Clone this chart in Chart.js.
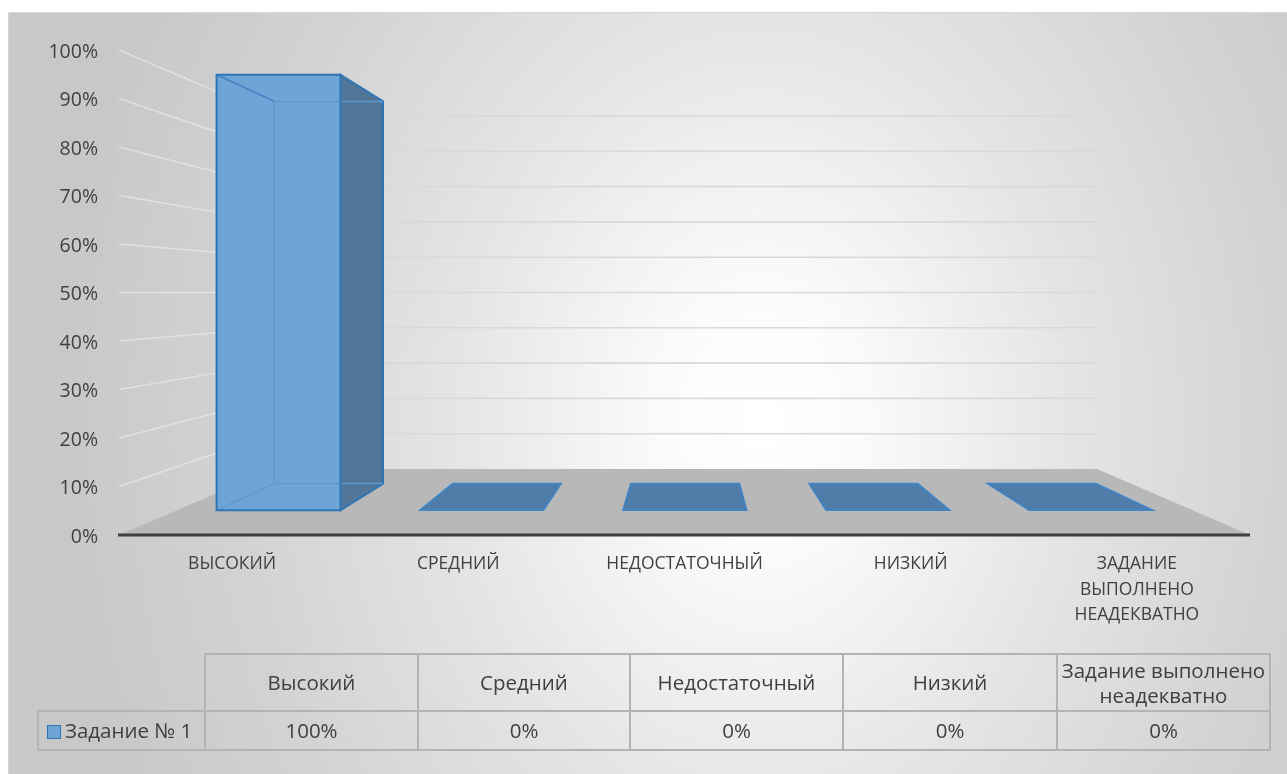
<!DOCTYPE html>
<html>
<head>
<meta charset="utf-8">
<script src="https://cdn.jsdelivr.net/npm/chart.js@4.4.1/dist/chart.umd.min.js"></script>
<style>
  html, body { margin: 0; padding: 0; background: #fff; }
  #wrap { position: relative; width: 1287px; height: 774px; overflow: hidden; }
  #bg {
    position: absolute; left: 8px; top: 12px; width: 1300px; height: 780px;
    border: 1px solid #d6d6d6;
    background: radial-gradient(ellipse 700px 900px at 752px 408px, #ffffff 0%, #fbfbfb 14%, #e4e4e4 45%, #d3d3d3 74%, #c8c8c8 100%);
  }
  #c { position: absolute; left: 0; top: 0; }
  #tbl {
    position: absolute; left: 37px; top: 653px;
    border-collapse: collapse; table-layout: fixed;
    font-family: "Open Sans", sans-serif; font-size: 20.5px; color: #404040;
  }
  #tbl td, #tbl th {
    border: 2px solid #b3b3b3; text-align: center; font-weight: normal;
    padding: 0 2px; line-height: 25px;
  }
  #tbl tr.head td, #tbl tr.head th { height: 55px; }
  #tbl tr.vals td { height: 37px; }
  #tbl td.empty { border-top: none; border-left: none; }
  #tbl td.key { text-align: left; padding-left: 8px; white-space: nowrap; }
  .sw { display: inline-block; width: 12px; height: 12px; background: #6fa4d6; border: 1.5px solid #2e75b6; margin-right: 4px; vertical-align: -1px; }
</style>
</head>
<body>
<div id="wrap">
  <div id="bg"></div>
  <canvas id="c" width="1287" height="774"></canvas>
  <table id="tbl">
    <colgroup><col style="width:167px"><col style="width:213px"><col style="width:212px"><col style="width:213px"><col style="width:214px"><col style="width:213px"></colgroup>
    <tbody></tbody>
  </table>
</div>
<script>
var categories = ['Высокий', 'Средний', 'Недостаточный', 'Низкий', 'Задание выполнено неадекватно'];
var seriesName = 'Задание № 1';
var values = [1.00, 0, 0, 0, 0];
var yTicks = [0, 0.1, 0.2, 0.3, 0.4, 0.5, 0.6, 0.7, 0.8, 0.9, 1.0];

// depth of the planes, as a share of the front plane (perspective)
var S_FRONT = 0.898, S_BACK = 0.788, S_WALL = 0.728;

function pct(v) { return Math.round(v * 100) + '%'; }

var depth3d = {
  id: 'depth3d',
  afterDatasetsDraw: function(chart) {
    var ctx = chart.ctx, a = chart.chartArea;
    var y = chart.scales.y;
    var vx = (a.left + a.right) / 2 + 3;
    var vy = y.getPixelForValue(0.5);
    function P(px, py, s) { return [vx + (px - vx) * s, vy + (py - vy) * s]; }
    function poly(pts) {
      ctx.beginPath();
      ctx.moveTo(pts[0][0], pts[0][1]);
      for (var i = 1; i < pts.length; i++) ctx.lineTo(pts[i][0], pts[i][1]);
      ctx.closePath();
    }
    function line(p, q, col, w) {
      ctx.beginPath(); ctx.moveTo(p[0], p[1]); ctx.lineTo(q[0], q[1]);
      ctx.strokeStyle = col; ctx.lineWidth = w; ctx.stroke();
    }
    ctx.save();

    // walls grid
    yTicks.forEach(function(v) {
      if (v === 0) return;
      var py = y.getPixelForValue(v);
      var f = P(a.left, py, 1), b = P(a.left, py, S_WALL), r = P(a.right, py, S_WALL);
      line(f, b, 'rgba(232,232,232,0.75)', 1.4);
      line(b, r, '#d9d9d9', 1.6);
    });

    // floor
    var y0 = y.getPixelForValue(0);
    poly([P(a.left, y0, 1), P(a.right, y0, 1), P(a.right, y0, S_WALL), P(a.left, y0, S_WALL)]);
    ctx.fillStyle = '#b8b8b8';
    ctx.fill();

    // bars
    var meta = chart.getDatasetMeta(0);
    meta.data.forEach(function(el) {
      var p = el.getProps(['x', 'y', 'base', 'width'], true);
      var xl = p.x - p.width / 2, xr = p.x + p.width / 2;
      var yb = p.base, yt = p.y;
      if (Math.abs(yb - yt) < 0.5) {
        poly([P(xl, yb, S_FRONT), P(xr, yb, S_FRONT), P(xr, yb, S_BACK), P(xl, yb, S_BACK)]);
        ctx.fillStyle = '#4f7ca8';
        ctx.fill();
        ctx.strokeStyle = '#3d86c9'; ctx.lineWidth = 1.5; ctx.stroke();
        return;
      }
      var ftl = P(xl, yt, S_FRONT), ftr = P(xr, yt, S_FRONT), fbr = P(xr, yb, S_FRONT), fbl = P(xl, yb, S_FRONT);
      var btl = P(xl, yt, S_BACK), btr = P(xr, yt, S_BACK), bbr = P(xr, yb, S_BACK), bbl = P(xl, yb, S_BACK);
      // right side
      poly([ftr, btr, bbr, fbr]);
      ctx.fillStyle = '#517698'; ctx.fill();
      ctx.strokeStyle = '#2e75b6'; ctx.lineWidth = 2; ctx.stroke();
      // front face (see-through look)
      poly([ftl, ftr, fbr, fbl]);
      ctx.fillStyle = '#6fa4d6'; ctx.fill();
      // inner edges seen through the front
      var inner = '#5e9ad2';
      line(btl, btr, inner, 1.5);
      line(btl, bbl, inner, 1.5);
      line(bbl, bbr, inner, 1.5);
      line(fbl, bbl, inner, 1.5);
      line(ftl, btl, '#3f82c2', 1.5);
      // front border
      poly([ftl, ftr, fbr, fbl]);
      ctx.strokeStyle = '#2e75b6'; ctx.lineWidth = 2; ctx.stroke();
    });

    // category axis line
    line([a.left - 1, y0], [a.right, y0], '#3f3f3f', 3);
    ctx.restore();
  }
};

var axisLabels = categories.map(function(c) { return c.toUpperCase().split(' '); });

new Chart(document.getElementById('c'), {
  type: 'bar',
  data: {
    labels: axisLabels,
    datasets: [{
      label: seriesName,
      data: values,
      backgroundColor: 'rgba(0,0,0,0)',
      borderWidth: 0,
      barPercentage: 0.61,
      categoryPercentage: 1
    }]
  },
  options: {
    responsive: false,
    animation: false,
    layout: { padding: { top: 50, right: 37, left: 0, bottom: 0 } },
    plugins: { legend: { display: false }, tooltip: { enabled: false } },
    scales: {
      x: {
        grid: { display: false, drawTicks: false },
        border: { display: false },
        ticks: {
          color: '#404040', padding: 17, maxRotation: 0, autoSkip: false,
          font: { family: 'Open Sans', size: 17.5, lineHeight: 1.43 }
        },
        afterFit: function(scale) { scale.height = 239; }
      },
      y: {
        min: 0, max: 1,
        grid: { display: false, drawTicks: false },
        border: { display: false },
        afterBuildTicks: function(scale) { scale.ticks = yTicks.map(function(v) { return { value: v }; }); },
        ticks: {
          color: '#404040', padding: 21, labelOffset: 2,
          font: { family: 'Open Sans', size: 19.5 },
          callback: function(v) { return pct(v); }
        },
        afterFit: function(scale) { scale.width = 119; }
      }
    }
  },
  plugins: [depth3d]
});

// data table under the chart
var body = document.querySelector('#tbl tbody');
var head = '<tr class="head"><td class="empty"></td>' +
  categories.map(function(c) { return '<th>' + c + '</th>'; }).join('') + '</tr>';
var row = '<tr class="vals"><td class="key"><span class="sw"></span>' + seriesName + '</td>' +
  values.map(function(v) { return '<td>' + pct(v) + '</td>'; }).join('') + '</tr>';
body.innerHTML = head + row;
</script>
</body>
</html>
